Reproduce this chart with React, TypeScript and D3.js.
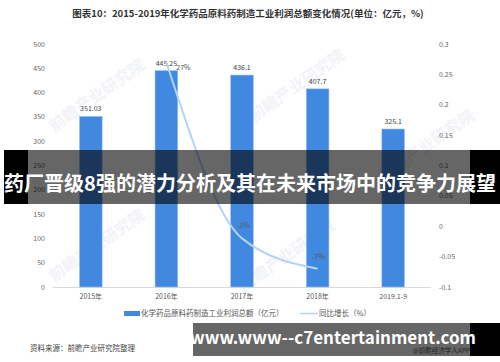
import React from "react";
import * as d3 from "d3";

const categories = ["2015年", "2016年", "2017年", "2018年", "2019.1-9"];
const profit = [351.03, 445.25, 436.1, 407.7, 325.1];
const profitLabels = ["351.03", "445.25", "436.1", "407.7", "325.1"];
const growth: (number | null)[] = [null, 0.27, -0.02, -0.07, null];
const growthLabels = ["", "27%", "-2%", "-7%", ""];
const leftTicks = [0, 50, 100, 150, 200, 250, 300, 350, 400, 450, 500];
const rightTicks = [-0.1, -0.05, 0, 0.05, 0.1, 0.15, 0.2, 0.25, 0.3];

const FONT = "'Noto Sans CJK SC', 'Noto Sans', sans-serif";

export default function App() {
  const W = 500, H = 362;
  const x = d3.scaleBand<string>().domain(categories).range([53, 431]).paddingInner(0.7).paddingOuter(0.35);
  const yL = d3.scaleLinear().domain([0, 500]).range([287, 44]);
  const yR = d3.scaleLinear().domain([-0.1, 0.3]).range([287, 44]);
  const cx = (c: string) => (x(c) ?? 0) + x.bandwidth() / 2;

  const pts = categories
    .map((c, i) => ({ c, v: growth[i], l: growthLabels[i] }))
    .filter((d) => d.v !== null) as { c: string; v: number; l: string }[];
  const line = d3.line<{ c: string; v: number }>()
    .x((d) => cx(d.c))
    .y((d) => yR(d.v))
    .curve(d3.curveMonotoneX);

  const wm = [
    { x: 100, y: 100 }, { x: 300, y: 90 }, { x: 100, y: 250 }, { x: 290, y: 260 }, { x: 430, y: 150 },
  ];

  return (
    <svg width={W} height={H} style={{ position: "absolute", left: 0, top: 0, background: "#fff" }} fontFamily={FONT}>
      <rect x={0} y={0} width={W} height={H} fill="#fff" />
      {wm.map((p, i) => (
        <text key={i} x={p.x} y={p.y} transform={`rotate(-35 ${p.x} ${p.y})`} fontSize={16} fontWeight="bold" fill="#f1f3f7" textAnchor="middle">
          前瞻产业研究院
        </text>
      ))}
      <text x={248} y={17} textAnchor="middle" fontSize={9.5} fontWeight="bold" fill="#333">
        图表10：2015-2019年化学药品原料药制造工业利润总额变化情况(单位：亿元，%)
      </text>
      {leftTicks.map((t) => (
        <text key={t} x={45} y={yL(t) + 2.5} textAnchor="end" fontSize={7} fill="#666">{t}</text>
      ))}
      {rightTicks.map((t) => (
        <text key={t} x={439} y={yR(t) + 2.5} textAnchor="start" fontSize={7} fill="#666">{t}</text>
      ))}
      <line x1={53} x2={431} y1={287.5} y2={287.5} stroke="#d9d9d9" strokeWidth={1} />
      {categories.map((c, i) => (
        <g key={c}>
          <rect x={x(c)} y={yL(profit[i])} width={x.bandwidth()} height={287 - yL(profit[i])} fill="#4188e0" stroke="#9cc3f0" strokeWidth={0.6} />
          <text x={cx(c)} y={yL(profit[i]) - 5} textAnchor="middle" fontSize={7} fill="#444">{profitLabels[i]}</text>
          <text x={cx(c)} y={299} textAnchor="middle" fontSize={7} fill="#555">{c}</text>
        </g>
      ))}
      <path d={line(pts) ?? ""} fill="none" stroke="#b3d3f7" strokeWidth={2} />
      {pts.map((p) => {
        const first = p.c === "2016年";
        return (
          <text key={p.c} x={cx(p.c) + (first ? 17 : 1)} y={yR(p.v) + (first ? 8 : -10)} textAnchor="middle" fontSize={7} fill="#555">
            {p.l}
          </text>
        );
      })}
      <rect x={124} y={311} width={16} height={5} fill="#4188e0" />
      <text x={141} y={316} fontSize={7.5} fill="#555">化学药品原料药制造工业利润总额（亿元）</text>
      <line x1={300} x2={318} y1={313.5} y2={313.5} stroke="#b3d3f7" strokeWidth={1.5} />
      <text x={319} y={316} fontSize={7.5} fill="#555">同比增长（%）</text>
      <text x={30} y={351} fontSize={7.5} fill="#444">资料来源：前瞻产业研究院整理</text>

      <rect x={4} y={150} width={24} height={54} fill="#000" />
      <rect x={28} y={150} width={442} height={54} fill="#000" opacity={0.6} />
      <rect x={470} y={150} width={30} height={54} fill="#000" />
      <text x={250} y={191} textAnchor="middle" fontSize={20} fontWeight="bold" fill="#fff">
        药厂晋级8强的潜力分析及其在未来市场中的竞争力展望
      </text>

      <rect x={193} y={323} width={277} height={33} fill="#000" opacity={0.6} />
      <rect x={470} y={323} width={30} height={33} fill="#000" />
      <text x={333} y={344} textAnchor="middle" fontSize={17} fontWeight="bold" fill="#fff">
        www.www--c7entertainment.com
      </text>
      <text x={470} y={353} textAnchor="end" fontSize={6.5} fill="#222">@前瞻经济学人APP</text>
    </svg>
  );
}
